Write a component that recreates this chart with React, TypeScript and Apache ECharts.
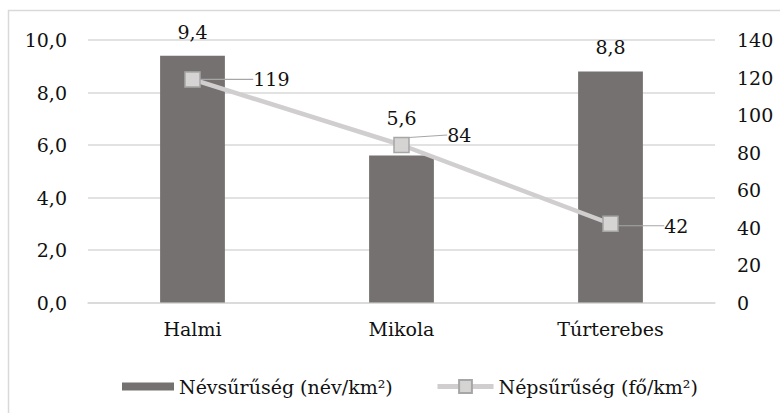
import React, { useEffect, useRef } from "react";
import * as echarts from "echarts";

const categories = ["Halmi", "Mikola", "Túrterebes"];
const nameDensity = [9.4, 5.6, 8.8];
const popDensity = [119, 84, 42];
const seriesNames = ["Névsűrűség (név/km²)", "Népsűrűség (fő/km²)"];
const barLabelDistance = [14, 28, 15];
const lineLabelShift = [
  [39.5, 0],
  [24.5, -10],
  [32.5, 2],
];

const FONT = "DejaVu Serif";
const FS = 19;
const comma = (v: number) => v.toFixed(1).replace(".", ",");

export default function App() {
  const ref = useRef<HTMLDivElement>(null);
  useEffect(() => {
    if (!ref.current) return;
    const chart = echarts.init(ref.current, undefined, { renderer: "svg" });
    const ts = () => ({ fontFamily: FONT, fontSize: FS, color: "#111" });
    chart.setOption({
      animation: false,
      graphic: [
        {
          type: "rect",
          shape: { x: 8.5, y: 10.5, width: 800, height: 420 },
          style: { fill: "none", stroke: "#d9d9d9", lineWidth: 1.5 },
          silent: true,
        },
      ],
      grid: { left: 88, right: 65, top: 40, bottom: 110.5, containLabel: false },
      legend: [
        {
          data: [seriesNames[0]],
          left: 117,
          top: 372,
          itemWidth: 52,
          itemHeight: 8,
          textStyle: ts(),
          icon: "rect",
        },
        {
          data: [seriesNames[1]],
          left: 430,
          top: 372,
          itemWidth: 56,
          itemHeight: 16,
          textStyle: ts(),
          lineStyle: { width: 5, color: "#d0cece" },
        },
      ],
      xAxis: {
        type: "category",
        data: categories,
        axisLine: { show: true, lineStyle: { color: "#d9d9d9", width: 1.5 } },
        axisTick: { show: false },
        axisLabel: { ...ts(), margin: 17 },
      },
      yAxis: [
        {
          type: "value",
          min: 0,
          max: 10,
          interval: 2,
          axisLine: { show: false },
          axisTick: { show: false },
          splitLine: { lineStyle: { color: "#d9d9d9", width: 1.5 } },
          axisLabel: { ...ts(), margin: 21, formatter: (v: number) => comma(v) },
        },
        {
          type: "value",
          min: 0,
          max: 140,
          interval: 20,
          axisLine: { show: false },
          axisTick: { show: false },
          splitLine: { show: false },
          axisLabel: { ...ts(), margin: 22 },
        },
      ],
      series: [
        {
          name: seriesNames[0],
          type: "bar",
          barWidth: "31%",
          itemStyle: { color: "#767171" },
          data: nameDensity.map((v, i) => ({
            value: v,
            label: { distance: barLabelDistance[i] },
          })),
          label: {
            show: true,
            position: "top",
            ...ts(),
            formatter: (p: any) => comma(p.value),
          },
        },
        {
          name: seriesNames[1],
          type: "line",
          yAxisIndex: 1,
          data: popDensity,
          symbol: "rect",
          symbolSize: 15,
          lineStyle: { color: "#d0cece", width: 4.5 },
          itemStyle: { color: "#d6d3d3", borderColor: "#a6a6a6", borderWidth: 1.5 },
          label: {
            show: true,
            position: "right",
            distance: 5,
            padding: [0, 0, 0, 8],
            ...ts(),
          },
          labelLine: { show: true, lineStyle: { color: "#a6a6a6", width: 1.2 } },
          labelLayout: (p: any) => ({
            dx: lineLabelShift[p.dataIndex][0],
            dy: lineLabelShift[p.dataIndex][1],
          }),
          z: 3,
        },
      ],
    });
    return () => chart.dispose();
  }, []);
  return (
    <div
      ref={ref}
      style={{ position: "absolute", left: 0, top: 0, width: 780, height: 413, overflow: "hidden" }}
    />
  );
}
